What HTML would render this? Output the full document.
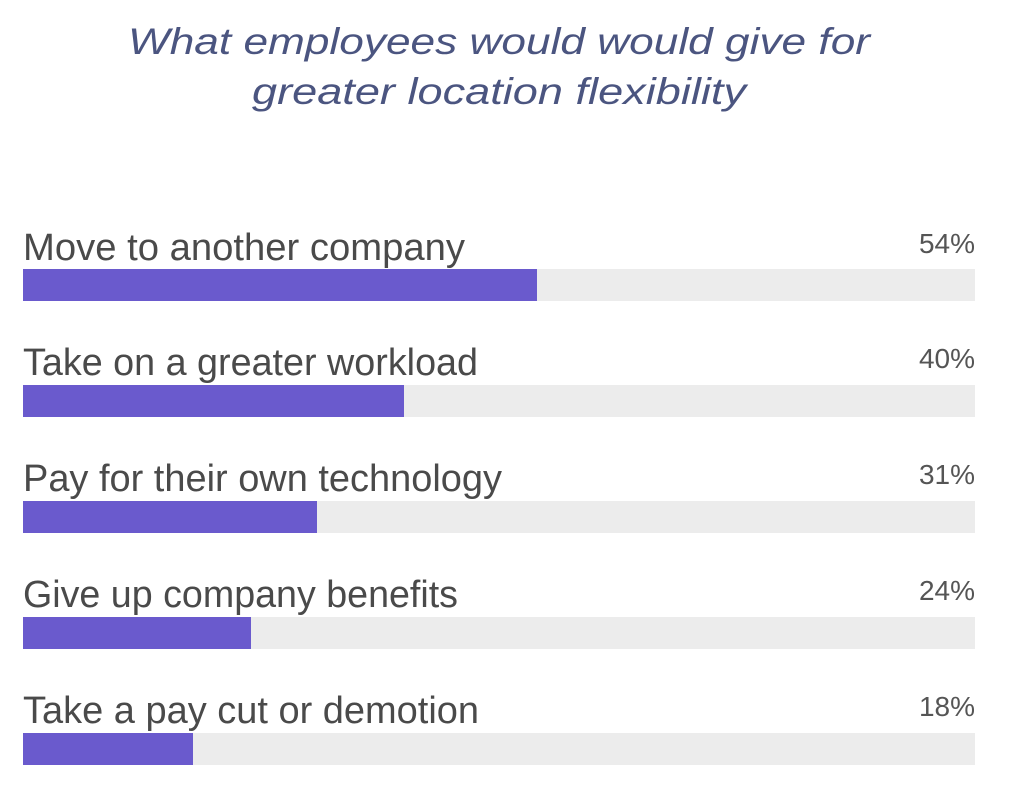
<!DOCTYPE html>
<html><head><style>
html,body{margin:0;padding:0;background:#fff;width:1024px;height:791px;overflow:hidden}
</style></head><body>
<svg width="1024" height="791" xmlns="http://www.w3.org/2000/svg" font-family="Liberation Sans, sans-serif">
<g fill="#4b5580" font-style="italic" font-size="37">
<text x="128" y="54" textLength="742" lengthAdjust="spacingAndGlyphs">What employees would would give for</text>
<text x="252" y="104" textLength="494" lengthAdjust="spacingAndGlyphs">greater location flexibility</text>
</g>
<g fill="#4a4a4a" font-size="38">
<text x="23" y="260" textLength="442" lengthAdjust="spacingAndGlyphs">Move to another company</text>
<text x="975" y="253" text-anchor="end" font-size="28" fill="#555">54%</text>
<text x="23" y="375" textLength="455" lengthAdjust="spacingAndGlyphs">Take on a greater workload</text>
<text x="975" y="368" text-anchor="end" font-size="28" fill="#555">40%</text>
<text x="23" y="491" textLength="479" lengthAdjust="spacingAndGlyphs">Pay for their own technology</text>
<text x="975" y="484" text-anchor="end" font-size="28" fill="#555">31%</text>
<text x="23" y="607" textLength="435" lengthAdjust="spacingAndGlyphs">Give up company benefits</text>
<text x="975" y="600" text-anchor="end" font-size="28" fill="#555">24%</text>
<text x="23" y="723" textLength="456" lengthAdjust="spacingAndGlyphs">Take a pay cut or demotion</text>
<text x="975" y="716" text-anchor="end" font-size="28" fill="#555">18%</text>
</g>
<g fill="#ececec">
<rect x="23" y="269" width="952" height="32"/>
<rect x="23" y="385" width="952" height="32"/>
<rect x="23" y="501" width="952" height="32"/>
<rect x="23" y="617" width="952" height="32"/>
<rect x="23" y="733" width="952" height="32"/>
</g>
<g fill="#6a5acd">
<rect x="23" y="269" width="514" height="32"/>
<rect x="23" y="385" width="381" height="32"/>
<rect x="23" y="501" width="294" height="32"/>
<rect x="23" y="617" width="228" height="32"/>
<rect x="23" y="733" width="170" height="32"/>
</g>
</svg>
</body></html>
